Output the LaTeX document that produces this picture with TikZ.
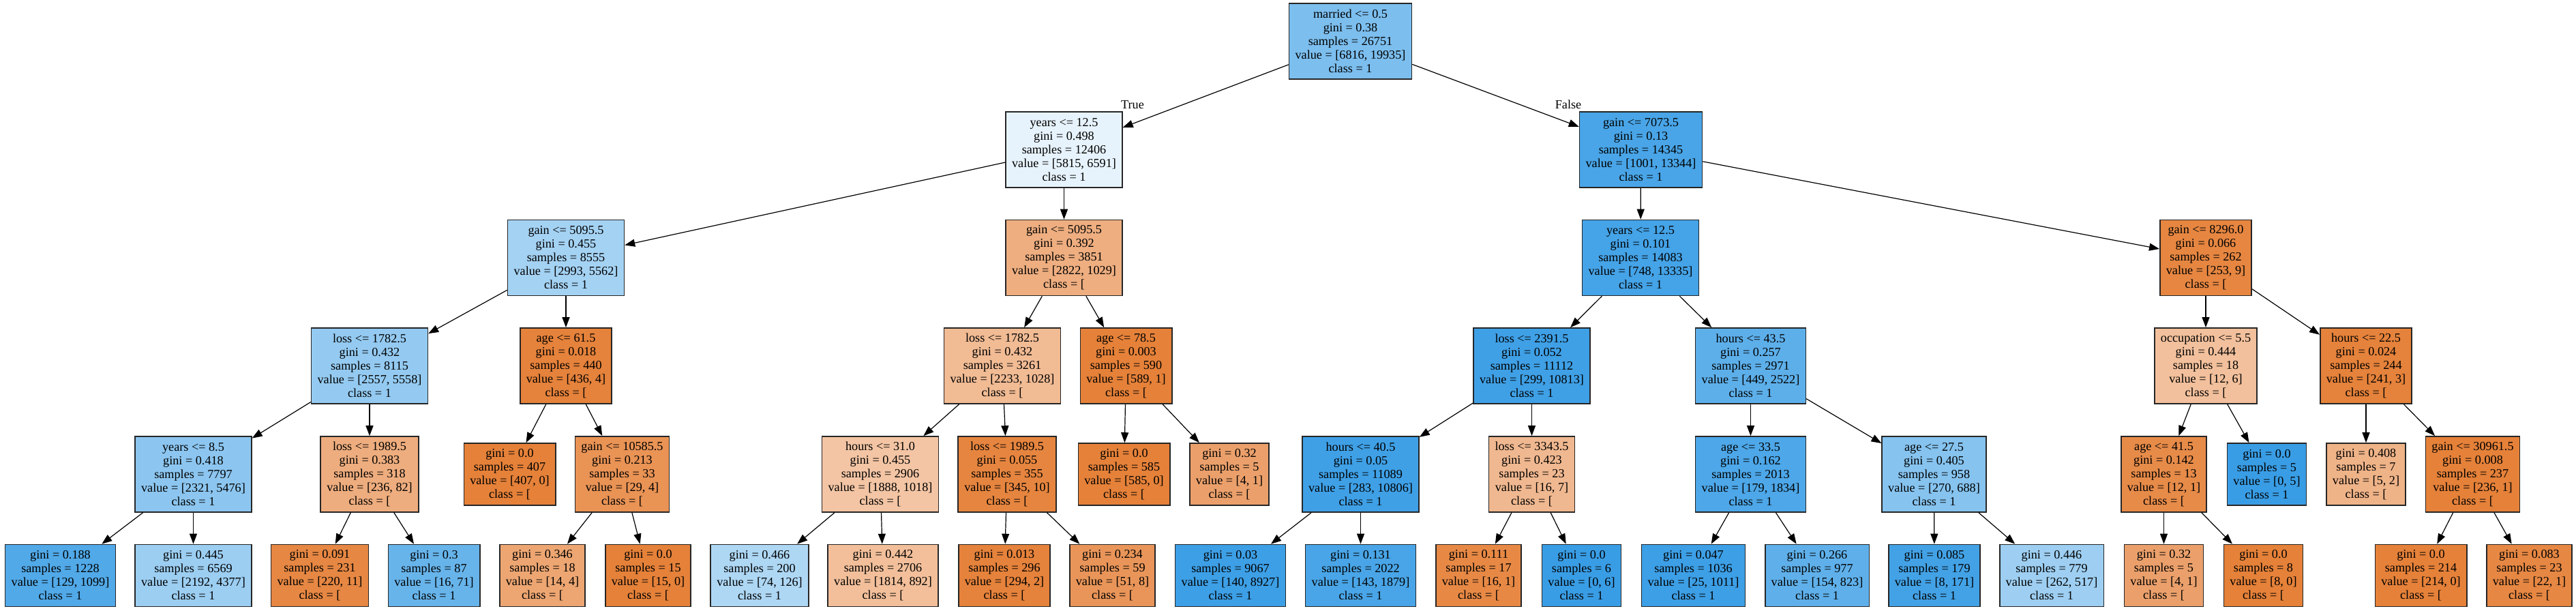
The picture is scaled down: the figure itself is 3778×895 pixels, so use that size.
\documentclass[tikz,border=0pt]{standalone}
\usepackage{fontspec}
\setmainfont{Liberation Serif}
\usetikzlibrary{arrows.meta}
\definecolor{classzero}{HTML}{E58139}
\definecolor{classone}{HTML}{399DE5}
\tikzset{
  split/.style={draw=black!85, line width=1.6pt, rectangle, align=center, inner xsep=9pt, minimum height=111pt},
  leafbox/.style={split, minimum height=91pt},
  edge/.style={line width=1.2pt, -{Triangle[length=15pt,width=11pt]}},
}

\begin{document}
\begin{tikzpicture}[x=1pt,y=-1pt,font=\fontsize{18.2}{20}\selectfont]
\useasboundingbox (0,0) rectangle (3778,895);

% level 0 and 1
\node[split,fill=classone!66] (r) at (1980.5,60.5) {married <= 0.5\\gini = 0.38\\samples = 26751\\value = [6816, 19935]\\class = 1};
\node[split,fill=classone!12] (rL) at (1560.5,219.5) {years <= 12.5\\gini = 0.498\\samples = 12406\\value = [5815, 6591]\\class = 1};
\node[split,fill=classone!92] (rR) at (2406.5,219.5) {gain <= 7073.5\\gini = 0.13\\samples = 14345\\value = [1001, 13344]\\class = 1};
\node (truelbl) at (1661,154) {True};
\node (falselbl) at (2300,153) {False};

% level 2
\node[split,fill=classone!46] (rLL) at (830,378) {gain <= 5095.5\\gini = 0.455\\samples = 8555\\value = [2993, 5562]\\class = 1};
\node[split,fill=classzero!64] (rLR) at (1560.5,378) {gain <= 5095.5\\gini = 0.392\\samples = 3851\\value = [2822, 1029]\\class = [};
\node[split,fill=classone!94] (rRL) at (2406,378) {years <= 12.5\\gini = 0.101\\samples = 14083\\value = [748, 13335]\\class = 1};
\node[split,fill=classzero!96] (rRR) at (3235,378) {gain <= 8296.0\\gini = 0.066\\samples = 262\\value = [253, 9]\\class = [};

% level 3
\node[split,fill=classone!54] (rLLL) at (542,536.5) {loss <= 1782.5\\gini = 0.432\\samples = 8115\\value = [2557, 5558]\\class = 1};
\node[split,fill=classzero!99] (rLLR) at (830,536.5) {age <= 61.5\\gini = 0.018\\samples = 440\\value = [436, 4]\\class = [};
\node[split,fill=classzero!54] (rLRL) at (1470,536.5) {loss <= 1782.5\\gini = 0.432\\samples = 3261\\value = [2233, 1028]\\class = [};
\node[split,fill=classzero!100] (rLRR) at (1651.5,536.5) {age <= 78.5\\gini = 0.003\\samples = 590\\value = [589, 1]\\class = [};
\node[split,fill=classone!97] (rRLL) at (2246.5,536.5) {loss <= 2391.5\\gini = 0.052\\samples = 11112\\value = [299, 10813]\\class = 1};
\node[split,fill=classone!82] (rRLR) at (2567.5,536.5) {hours <= 43.5\\gini = 0.257\\samples = 2971\\value = [449, 2522]\\class = 1};
\node[split,fill=classzero!50] (rRRL) at (3235,536.5) {occupation <= 5.5\\gini = 0.444\\samples = 18\\value = [12, 6]\\class = [};
\node[split,fill=classzero!99] (rRRR) at (3470,536.5) {hours <= 22.5\\gini = 0.024\\samples = 244\\value = [241, 3]\\class = [};

% level 4
\node[split,fill=classone!58] (rLLLL) at (283.5,695.5) {years <= 8.5\\gini = 0.418\\samples = 7797\\value = [2321, 5476]\\class = 1};
\node[split,fill=classzero!65] (rLLLR) at (542,695.5) {loss <= 1989.5\\gini = 0.383\\samples = 318\\value = [236, 82]\\class = [};
\node[leafbox,fill=classzero!100] (rLLRL) at (747.5,695.5) {gini = 0.0\\samples = 407\\value = [407, 0]\\class = [};
\node[split,fill=classzero!86] (rLLRR) at (912.5,695.5) {gain <= 10585.5\\gini = 0.213\\samples = 33\\value = [29, 4]\\class = [};
\node[split,fill=classzero!46] (rLRLL) at (1291,695.5) {hours <= 31.0\\gini = 0.455\\samples = 2906\\value = [1888, 1018]\\class = [};
\node[split,fill=classzero!97] (rLRLR) at (1477,695.5) {loss <= 1989.5\\gini = 0.055\\samples = 355\\value = [345, 10]\\class = [};
\node[leafbox,fill=classzero!100] (rLRRL) at (1648.5,695.5) {gini = 0.0\\samples = 585\\value = [585, 0]\\class = [};
\node[leafbox,fill=classzero!75] (rLRRR) at (1803,695.5) {gini = 0.32\\samples = 5\\value = [4, 1]\\class = [};
\node[split,fill=classone!97] (rRLLL) at (1995.5,695.5) {hours <= 40.5\\gini = 0.05\\samples = 11089\\value = [283, 10806]\\class = 1};
\node[split,fill=classzero!56] (rRLLR) at (2246.5,695.5) {loss <= 3343.5\\gini = 0.423\\samples = 23\\value = [16, 7]\\class = [};
\node[split,fill=classone!90] (rRLRL) at (2567.5,695.5) {age <= 33.5\\gini = 0.162\\samples = 2013\\value = [179, 1834]\\class = 1};
\node[split,fill=classone!61] (rRLRR) at (2836.5,695.5) {age <= 27.5\\gini = 0.405\\samples = 958\\value = [270, 688]\\class = 1};
\node[split,fill=classzero!92] (rRRLL) at (3173.5,695.5) {age <= 41.5\\gini = 0.142\\samples = 13\\value = [12, 1]\\class = [};
\node[leafbox,fill=classone!100] (rRRLR) at (3324.5,695.5) {gini = 0.0\\samples = 5\\value = [0, 5]\\class = 1};
\node[leafbox,fill=classzero!60] (rRRRL) at (3470,695.5) {gini = 0.408\\samples = 7\\value = [5, 2]\\class = [};
\node[split,fill=classzero!100] (rRRRR) at (3626.5,695.5) {gain <= 30961.5\\gini = 0.008\\samples = 237\\value = [236, 1]\\class = [};

% level 5
\node[leafbox,fill=classone!88] (rLLLLL) at (88.5,844) {gini = 0.188\\samples = 1228\\value = [129, 1099]\\class = 1};
\node[leafbox,fill=classone!50] (rLLLLR) at (283.5,844) {gini = 0.445\\samples = 6569\\value = [2192, 4377]\\class = 1};
\node[leafbox,fill=classzero!95] (rLLLRL) at (469,844) {gini = 0.091\\samples = 231\\value = [220, 11]\\class = [};
\node[leafbox,fill=classone!77] (rLLLRR) at (636.5,844) {gini = 0.3\\samples = 87\\value = [16, 71]\\class = 1};
\node[leafbox,fill=classzero!71] (rLLRRL) at (795.5,844) {gini = 0.346\\samples = 18\\value = [14, 4]\\class = [};
\node[leafbox,fill=classzero!100] (rLLRRR) at (950.5,844) {gini = 0.0\\samples = 15\\value = [15, 0]\\class = [};
\node[leafbox,fill=classone!41] (rLRLLL) at (1114,844) {gini = 0.466\\samples = 200\\value = [74, 126]\\class = 1};
\node[leafbox,fill=classzero!51] (rLRLLR) at (1295,844) {gini = 0.442\\samples = 2706\\value = [1814, 892]\\class = [};
\node[leafbox,fill=classzero!99] (rLRLRL) at (1473,844) {gini = 0.013\\samples = 296\\value = [294, 2]\\class = [};
\node[leafbox,fill=classzero!84] (rLRLRR) at (1631.5,844) {gini = 0.234\\samples = 59\\value = [51, 8]\\class = [};
\node[leafbox,fill=classone!98] (rRLLLL) at (1804.5,844) {gini = 0.03\\samples = 9067\\value = [140, 8927]\\class = 1};
\node[leafbox,fill=classone!92] (rRLLLR) at (1995.5,844) {gini = 0.131\\samples = 2022\\value = [143, 1879]\\class = 1};
\node[leafbox,fill=classzero!94] (rRLLRL) at (2168.5,844) {gini = 0.111\\samples = 17\\value = [16, 1]\\class = [};
\node[leafbox,fill=classone!100] (rRLLRR) at (2319.5,844) {gini = 0.0\\samples = 6\\value = [0, 6]\\class = 1};
\node[leafbox,fill=classone!98] (rRLRLL) at (2483.5,844) {gini = 0.047\\samples = 1036\\value = [25, 1011]\\class = 1};
\node[leafbox,fill=classone!81] (rRLRLR) at (2665,844) {gini = 0.266\\samples = 977\\value = [154, 823]\\class = 1};
\node[leafbox,fill=classone!95] (rRLRRL) at (2837,844) {gini = 0.085\\samples = 179\\value = [8, 171]\\class = 1};
\node[leafbox,fill=classone!49] (rRLRRR) at (3009,844) {gini = 0.446\\samples = 779\\value = [262, 517]\\class = 1};
\node[leafbox,fill=classzero!75] (rRRLLL) at (3173.5,844) {gini = 0.32\\samples = 5\\value = [4, 1]\\class = [};
\node[leafbox,fill=classzero!100] (rRRLLR) at (3319.5,844) {gini = 0.0\\samples = 8\\value = [8, 0]\\class = [};
\node[leafbox,fill=classzero!100] (rRRRRL) at (3550.5,844) {gini = 0.0\\samples = 214\\value = [214, 0]\\class = [};
\node[leafbox,fill=classzero!95] (rRRRRR) at (3709.5,844) {gini = 0.083\\samples = 23\\value = [22, 1]\\class = [};

% edges
\foreach \a/\b in {r/rL,r/rR,rL/rLL,rL/rLR,rR/rRL,rR/rRR,
    rLL/rLLL,rLL/rLLR,rLR/rLRL,rLR/rLRR,rRL/rRLL,rRL/rRLR,rRR/rRRL,rRR/rRRR,
    rLLL/rLLLL,rLLL/rLLLR,rLLR/rLLRL,rLLR/rLLRR,rLRL/rLRLL,rLRL/rLRLR,rLRR/rLRRL,rLRR/rLRRR,
    rRLL/rRLLL,rRLL/rRLLR,rRLR/rRLRL,rRLR/rRLRR,rRRL/rRRLL,rRRL/rRRLR,rRRR/rRRRL,rRRR/rRRRR,
    rLLLL/rLLLLL,rLLLL/rLLLLR,rLLLR/rLLLRL,rLLLR/rLLLRR,rLLRR/rLLRRL,rLLRR/rLLRRR,
    rLRLL/rLRLLL,rLRLL/rLRLLR,rLRLR/rLRLRL,rLRLR/rLRLRR,rRLLL/rRLLLL,rRLLL/rRLLLR,
    rRLLR/rRLLRL,rRLLR/rRLLRR,rRLRL/rRLRLL,rRLRL/rRLRLR,rRLRR/rRLRRL,rRLRR/rRLRRR,
    rRRLL/rRRLLL,rRRLL/rRRLLR,rRRRR/rRRRRL,rRRRR/rRRRRR}{
    \draw[edge] (\a) -- (\b);
}
\end{tikzpicture}
\end{document}
